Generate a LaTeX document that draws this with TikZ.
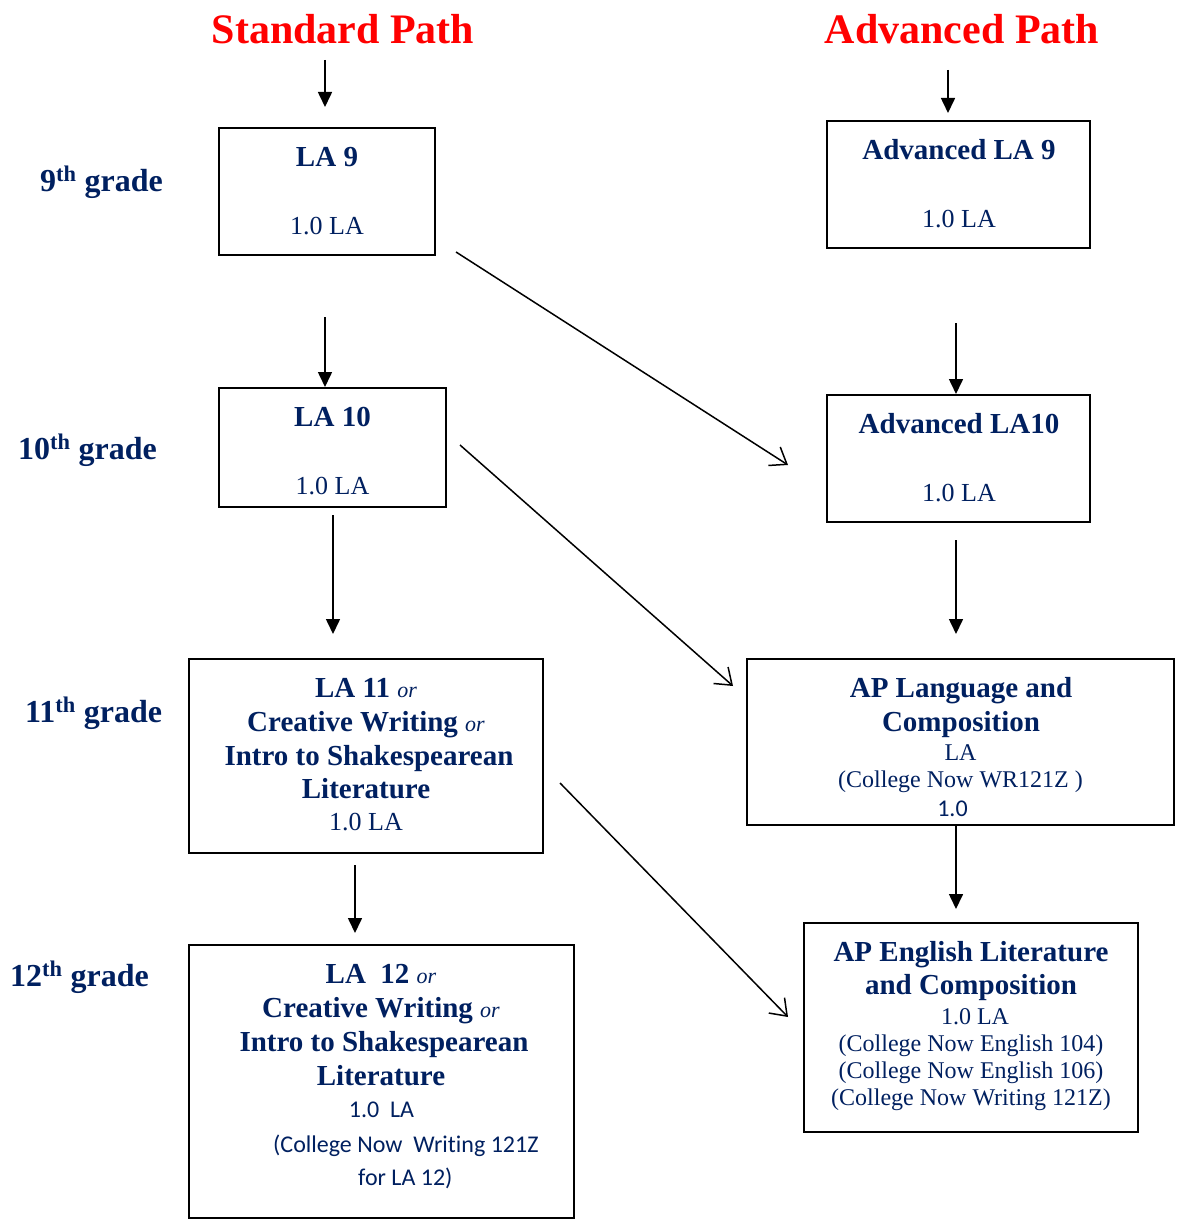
\documentclass[tikz,border=0pt]{standalone}
\usepackage{fontspec}
\setmainfont{Liberation Serif}
\newfontfamily\calfont[Ligatures=NoCommon]{Carlito}
\usetikzlibrary{arrows.meta}
\definecolor{navy}{HTML}{002060}
\definecolor{hdred}{HTML}{FF0000}
\begin{document}
\begin{tikzpicture}[x=1pt,y=-1pt,
  box/.style={draw=black, line width=2pt, inner sep=0pt},
  txt/.style={text=navy, inner sep=0pt, anchor=base},
  hd/.style={txt, text=hdred, font=\bfseries\fontsize{42}{48}\selectfont},
  grd/.style={txt, anchor=base west, font=\bfseries\fontsize{32}{36}\selectfont},
  bt/.style={txt, font=\bfseries\fontsize{29}{34}\selectfont},
  rt/.style={txt, font=\fontsize{26}{30}\selectfont},
  st/.style={txt, font=\fontsize{24}{28}\selectfont},
  ct/.style={txt, font=\calfont\fontsize{24}{28}\selectfont},
  varrow/.style={line width=1.6pt, -{Triangle[length=15pt,width=14pt]}},
  darrow/.style={line width=1.5pt, -{Straight Barb[length=15pt,width=22pt,line width=1.5pt]}}]
\newcommand{\orw}{{\mdseries\itshape\fontsize{22}{26}\selectfont or}}
\useasboundingbox[fill=white] (0,0) rectangle (1176,1220);

% headers
\node[hd] (stdhd) at (343,44) {Standard Path};
\node[hd] (advhd) at (962,44) {Advanced Path};

% grade labels
\node[grd] (g9) at (40,191) {9\textsuperscript{th} grade};
\node[grd] (g10) at (18,459) {10\textsuperscript{th} grade};
\node[grd] (g11) at (25,722) {11\textsuperscript{th} grade};
\node[grd] (g12) at (10,986) {12\textsuperscript{th} grade};

% boxes
\node[box, minimum width=216, minimum height=127] (la9) at (327,191.5) {};
\node[box, minimum width=263, minimum height=127] (ala9) at (958.5,184.5) {};
\node[box, minimum width=227, minimum height=119] (la10) at (332.5,447.5) {};
\node[box, minimum width=263, minimum height=127] (ala10) at (958.5,458.5) {};
\node[box, minimum width=354, minimum height=194] (la11) at (366,756) {};
\node[box, minimum width=427, minimum height=166] (aplang) at (960.5,742) {};
\node[box, minimum width=385, minimum height=273] (la12) at (381.5,1081.5) {};
\node[box, minimum width=334, minimum height=209] (apeng) at (971,1027.5) {};

% LA 9
\node[bt] (la9a) at (327,166) {LA 9};
\node[rt] (la9b) at (327,234) {1.0 LA};
% Advanced LA 9
\node[bt] (ala9a) at (959,159) {Advanced LA 9};
\node[rt] (ala9b) at (959,227) {1.0 LA};
% LA 10
\node[bt] (la10a) at (332.5,426) {LA 10};
\node[rt] (la10b) at (332.5,494) {1.0 LA};
% Advanced LA10
\node[bt] (ala10a) at (959,433) {Advanced LA10};
\node[rt] (ala10b) at (959,501) {1.0 LA};
% LA 11
\node[bt] (la11a) at (366,697) {LA 11 \orw};
\node[bt] (la11b) at (366,731) {Creative Writing \orw};
\node[bt] (la11c) at (369,765) {Intro to Shakespearean};
\node[bt] (la11d) at (366,798) {Literature};
\node[rt] (la11e) at (366,830) {1.0 LA};
% AP Language
\node[bt] (apla) at (961,697) {AP Language and};
\node[bt] (aplb) at (961,731) {Composition};
\node[st] (aplc) at (960.5,760) {LA};
\node[st] (apld) at (960.5,787) {(College Now WR121Z )};
\node[ct] (aple) at (952.5,816) {1.0};
% LA 12
\node[bt] (la12a) at (381,983) {LA\ \ 12 \orw};
\node[bt] (la12b) at (381,1017) {Creative Writing \orw};
\node[bt] (la12c) at (384,1051) {Intro to Shakespearean};
\node[bt] (la12d) at (381,1085) {Literature};
\node[ct] (la12e) at (381.5,1117) {1.0\ \ LA};
\node[ct, anchor=base west] (la12f) at (273,1152) {(College Now\ \ Writing 121Z};
\node[ct, anchor=base west] (la12g) at (358,1185) {for LA 12)};
% AP English
\node[bt] (apea) at (971,961) {AP English Literature};
\node[bt] (apeb) at (971,994) {and Composition};
\node[st] (apec) at (975,1024) {1.0 LA};
\node[st] (aped) at (971,1051) {(College Now English 104)};
\node[st] (apee) at (971,1078) {(College Now English 106)};
\node[st] (apef) at (971,1105) {(College Now Writing 121Z)};

% arrow coordinates
\coordinate (s1) at (325,60);   \coordinate (e1) at (325,107);
\coordinate (s2) at (948,70);   \coordinate (e2) at (948,113);
\coordinate (s3) at (325,317);
\coordinate (s4) at (956,323);
\coordinate (s5) at (333,515);  \coordinate (e5) at (333,634);
\coordinate (s6) at (956,540);  \coordinate (e6) at (956,634);
\coordinate (s7) at (355,865);  \coordinate (e7) at (355,933);
\coordinate (s8) at (956,825);  \coordinate (e8) at (956,909);
\coordinate (d1s) at (456,252); \coordinate (d1e) at (788,465);
\coordinate (d2s) at (460,445); \coordinate (d2e) at (733,686);
\coordinate (d3s) at (560,783); \coordinate (d3e) at (788,1017);

% vertical arrows
\draw[varrow] (s1) -- (e1);
\draw[varrow] (s2) -- (e2);
\draw[varrow] (s3) -- (s3 |- la10.north);
\draw[varrow] (s4) -- (s4 |- ala10.north);
\draw[varrow] (s5) -- (e5);
\draw[varrow] (s6) -- (e6);
\draw[varrow] (s7) -- (e7);
\draw[varrow] (s8 |- aplang.south) -- (e8);

% diagonal arrows
\draw[darrow] (d1s) -- (d1e);
\draw[darrow] (d2s) -- (d2e);
\draw[darrow] (d3s) -- (d3e);
\end{tikzpicture}
\end{document}
